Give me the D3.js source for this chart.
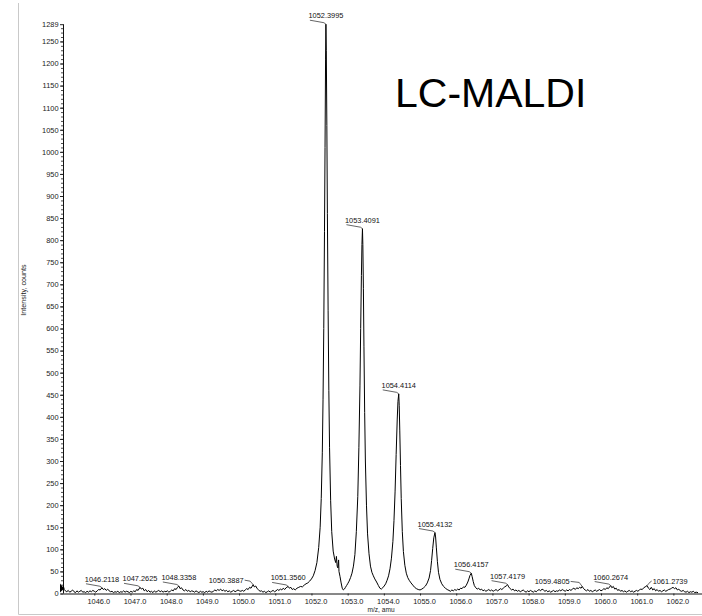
<!DOCTYPE html>
<html>
<head>
<meta charset="utf-8">
<script src="https://cdn.jsdelivr.net/npm/d3@7"></script>
<style>
  body { margin: 0; background: #fff; }
  svg { display: block; }
  text { font-family: "Liberation Sans", Arial, sans-serif; }
</style>
</head>
<body>
<svg id="chart" width="702" height="616"></svg>
<script>
// ---- Spectrum: [m/z, intensity (counts)] ----
const spectrumLow = [
  [1045.14,18],[1045.17,9],[1045.20,6],[1045.24,4],[1045.28,7],[1045.32,3],[1045.36,5],[1045.40,8],
  [1045.44,4],[1045.48,2],[1045.52,6],[1045.56,3],[1045.60,5],[1045.64,7],[1045.68,3],[1045.72,4],
  [1045.76,2],[1045.80,5],[1045.84,3],[1045.88,6],[1045.92,4],[1045.96,7],[1046.00,5],[1046.04,3],
  [1046.08,6],[1046.12,9],[1046.16,8],[1046.2118,13],[1046.25,9],[1046.29,11],[1046.33,7],[1046.37,10],
  [1046.41,6],[1046.45,4],[1046.49,5],[1046.53,2],[1046.57,4],[1046.61,3],[1046.65,5],[1046.69,2],
  [1046.73,4],[1046.77,3],[1046.81,6],[1046.85,3],[1046.89,5],[1046.93,4],[1046.97,2],[1047.01,5],
  [1047.05,3],[1047.09,6],[1047.13,4],[1047.17,9],[1047.21,7],[1047.2625,14],[1047.30,10],[1047.34,12],
  [1047.38,6],[1047.42,9],[1047.46,4],[1047.50,7],[1047.54,3],[1047.58,5],[1047.62,2],[1047.66,6],
  [1047.70,3],[1047.74,5],[1047.78,7],[1047.82,4],[1047.86,6],[1047.90,3],[1047.94,5],[1047.98,4],
  [1048.02,6],[1048.06,3],[1048.10,5],[1048.14,8],[1048.18,6],[1048.22,11],[1048.26,9],[1048.30,14],
  [1048.3358,17],[1048.37,11],[1048.41,13],[1048.45,8],[1048.49,6],[1048.53,9],[1048.57,5],[1048.61,7],
  [1048.65,4],[1048.69,6],[1048.73,5],[1048.77,3],[1048.81,6],[1048.85,4],[1048.89,2],[1048.93,5],
  [1048.97,3],[1049.01,4],[1049.05,2],[1049.09,5],[1049.13,3],[1049.17,6],[1049.21,4],[1049.25,3],
  [1049.29,5],[1049.33,8],[1049.37,6],[1049.41,9],[1049.45,7],[1049.49,10],[1049.53,6],[1049.57,8],
  [1049.61,5],[1049.65,7],[1049.69,4],[1049.73,6],[1049.77,3],[1049.81,5],[1049.85,7],[1049.89,4],
  [1049.93,6],[1049.97,8],[1050.01,6],[1050.05,5],[1050.09,7],[1050.13,5],[1050.17,8],[1050.21,11],
  [1050.25,9],[1050.29,14],[1050.33,12],[1050.3887,20],[1050.42,15],[1050.46,17],[1050.50,11],[1050.54,8],
  [1050.58,5],[1050.62,6],[1050.66,3],[1050.70,5],[1050.74,2],[1050.78,4],[1050.82,6],[1050.86,3],
  [1050.90,5],[1050.94,7],[1050.98,4],[1051.02,6],[1051.06,9],[1051.10,7],[1051.14,10],[1051.18,8],
  [1051.22,12],[1051.26,9],[1051.30,13],[1051.3560,16],[1051.39,12],[1051.43,14],[1051.47,9],[1051.51,11],
  [1051.55,8]
];

const spectrumCluster = [
  [1051.60,12],[1051.65,14],[1051.70,16],[1051.75,15],[1051.80,19],[1051.85,22],[1051.90,24],[1051.95,28],
  [1052.00,33],[1052.05,40],[1052.10,52],[1052.15,70],[1052.20,104],[1052.24,150],[1052.27,215],[1052.30,320],
  [1052.32,440],[1052.34,600],[1052.36,820],[1052.375,1010],[1052.39,1210],[1052.3995,1289],[1052.41,1230],
  [1052.425,1060],[1052.44,860],[1052.46,640],[1052.48,460],[1052.50,330],[1052.53,210],[1052.56,140],
  [1052.60,96],[1052.64,78],[1052.67,70],[1052.69,84],[1052.71,62],[1052.73,58],[1052.75,76],[1052.76,50],
  [1052.79,38],[1052.82,24],[1052.85,12],[1052.88,8],[1052.91,10],[1052.94,14],[1052.97,18],[1053.00,22],
  [1053.04,28],[1053.08,36],[1053.12,46],[1053.16,62],[1053.20,88],[1053.24,140],[1053.28,220],[1053.31,330],
  [1053.34,470],[1053.36,600],[1053.38,720],[1053.395,790],[1053.4091,826],[1053.42,790],[1053.435,690],
  [1053.45,560],[1053.47,410],[1053.49,300],[1053.52,200],[1053.55,135],[1053.59,90],[1053.63,62],
  [1053.67,48],[1053.71,40],[1053.75,33],[1053.80,26],[1053.85,18],[1053.89,12],[1053.93,10],[1053.97,13],
  [1054.01,17],[1054.05,22],[1054.09,30],[1054.13,40],[1054.17,56],[1054.21,80],[1054.25,118],[1054.28,165],
  [1054.31,230],[1054.34,315],[1054.37,395],[1054.39,435],[1054.4114,452],[1054.425,425],[1054.44,370],
  [1054.46,290],[1054.48,215],[1054.51,140],[1054.54,95],[1054.58,64],[1054.62,46],[1054.66,36],[1054.70,30],
  [1054.75,24],[1054.80,19],[1054.85,14],[1054.90,11],[1054.95,9],[1055.00,8],[1055.05,10],[1055.10,13],
  [1055.15,17],[1055.20,24],[1055.25,35],[1055.29,52],[1055.32,75],[1055.35,102],[1055.38,126],
  [1055.4132,138],[1055.43,128],[1055.45,105],[1055.48,72],[1055.51,48],[1055.55,32],[1055.60,22],
  [1055.65,16],[1055.70,12],[1055.75,9],[1055.80,7]
];

const spectrumHigh = [
  [1055.84,5],[1055.88,8],[1055.92,6],[1055.96,9],[1056.00,7],[1056.04,10],[1056.08,8],[1056.12,12],
  [1056.16,11],[1056.20,15],[1056.24,14],[1056.28,19],[1056.32,26],[1056.35,33],[1056.38,41],[1056.4157,46],
  [1056.44,38],[1056.47,27],[1056.50,18],[1056.54,13],[1056.58,10],[1056.62,12],[1056.66,8],[1056.70,10],
  [1056.74,6],[1056.78,8],[1056.82,5],[1056.86,7],[1056.90,9],[1056.94,6],[1056.98,8],[1057.02,5],
  [1057.06,7],[1057.10,9],[1057.14,6],[1057.18,8],[1057.22,11],[1057.26,9],[1057.30,12],[1057.34,15],
  [1057.38,17],[1057.4179,20],[1057.45,15],[1057.49,11],[1057.53,8],[1057.57,10],[1057.61,6],[1057.65,8],
  [1057.69,5],[1057.73,7],[1057.77,4],[1057.81,6],[1057.85,8],[1057.89,5],[1057.93,3],[1057.97,6],
  [1058.01,4],[1058.05,7],[1058.09,5],[1058.13,3],[1058.17,6],[1058.21,4],[1058.25,7],[1058.29,9],
  [1058.33,6],[1058.37,10],[1058.41,8],[1058.45,5],[1058.49,7],[1058.53,4],[1058.57,6],[1058.61,3],
  [1058.65,5],[1058.69,7],[1058.73,4],[1058.77,6],[1058.81,5],[1058.85,8],[1058.89,6],[1058.93,9],
  [1058.97,7],[1059.01,5],[1059.05,8],[1059.09,6],[1059.13,9],[1059.17,7],[1059.21,10],[1059.25,12],
  [1059.29,9],[1059.33,13],[1059.37,11],[1059.41,14],[1059.45,12],[1059.4805,16],[1059.52,11],[1059.56,8],
  [1059.60,6],[1059.64,9],[1059.68,5],[1059.72,7],[1059.76,4],[1059.80,6],[1059.84,8],[1059.88,5],
  [1059.92,7],[1059.96,9],[1060.00,6],[1060.04,8],[1060.08,11],[1060.12,9],[1060.16,13],[1060.20,11],
  [1060.2674,18],[1060.30,13],[1060.34,16],[1060.38,10],[1060.42,12],[1060.46,7],[1060.50,9],[1060.54,5],
  [1060.58,7],[1060.62,4],[1060.66,6],[1060.70,3],[1060.74,5],[1060.78,7],[1060.82,4],[1060.86,6],
  [1060.90,3],[1060.94,5],[1060.98,7],[1061.02,5],[1061.06,8],[1061.10,10],[1061.14,9],[1061.18,13],
  [1061.22,15],[1061.2739,18],[1061.31,12],[1061.35,9],[1061.39,14],[1061.43,8],[1061.47,11],[1061.51,6],
  [1061.55,9],[1061.59,5],[1061.63,7],[1061.67,4],[1061.71,6],[1061.75,8],[1061.79,5],[1061.83,7],
  [1061.87,9],[1061.91,10],[1061.95,12],[1061.99,14],[1062.03,11],[1062.07,13],[1062.11,8],[1062.15,10],
  [1062.19,6],[1062.23,5],[1062.27,7],[1062.31,4],[1062.35,3],[1062.39,5],[1062.43,2],[1062.47,4],
  [1062.51,3],[1062.55,5],[1062.59,2],[1062.63,3],[1062.68,2]
];

// Centroid m/z values of the annotated peaks
const labelledPeaks = [
  1046.2118, 1047.2625, 1048.3358, 1050.3887, 1051.3560, 1052.3995, 1053.4091,
  1054.4114, 1055.4132, 1056.4157, 1057.4179, 1059.4805, 1060.2674, 1061.2739
];

const xTickValues = [1046, 1047, 1048, 1049, 1050, 1051, 1052, 1053, 1054,
                     1055, 1056, 1057, 1058, 1059, 1060, 1061, 1062];
const yTickValues = [0, 50, 100, 150, 200, 250, 300, 350, 400, 450, 500, 550, 600,
                     650, 700, 750, 800, 850, 900, 950, 1000, 1050, 1100, 1150,
                     1200, 1250, 1289];

const titleText = "LC-MALDI";
const xAxisTitle = "m/z, amu";
const yAxisTitle = "Intensity, counts";

// ---- Layout ----
const spectrum = spectrumLow.concat(spectrumCluster, spectrumHigh);
const plot = { left: 63, right: 698, top: 24.2, bottom: 593.5 };

const x = d3.scaleLinear().domain([1045.135, 1062.68]).range([plot.left, plot.right]);
const y = d3.scaleLinear().domain([0, 1289]).range([plot.bottom, plot.top]);

const svg = d3.select("#chart");

// Light panel frame (left and bottom edges)
svg.append("path")
  .attr("d", "M18.5,3 V614.5 H702")
  .attr("fill", "none").attr("stroke", "#c9c9c9").attr("stroke-width", 1);

// Y axis with minor ticks every 10 counts
const yMinor = d3.range(0, 1290, 10);
svg.append("g")
  .attr("transform", `translate(${plot.left},0)`)
  .call(d3.axisLeft(y).tickValues(yMinor).tickSize(2).tickFormat(""))
  .call(g => g.select(".domain").remove())
  .call(g => g.selectAll("line").attr("stroke", "#222").attr("stroke-width", 0.8));

const yAxis = svg.append("g")
  .attr("transform", `translate(${plot.left},0)`)
  .call(d3.axisLeft(y).tickValues(yTickValues).tickSize(3).tickPadding(1.5)
        .tickFormat(d3.format("d")));
yAxis.select(".domain").attr("d", `M0.5,${plot.top}V${plot.bottom}`).attr("stroke", "#111");
yAxis.selectAll("line").attr("stroke", "#222");
yAxis.selectAll("text").attr("font-size", 7.4).attr("fill", "#222")
  .attr("font-family", "Liberation Sans, Arial, sans-serif");

// X axis
const xAxis = svg.append("g")
  .attr("transform", `translate(0,${plot.bottom})`)
  .call(d3.axisBottom(x).tickValues(xTickValues).tickSize(2).tickPadding(3)
        .tickFormat(d3.format(".1f")));
xAxis.select(".domain").attr("d", `M${plot.left},0.5H702`).attr("stroke", "#111");
xAxis.selectAll("line").attr("stroke", "#222");
xAxis.selectAll("text").attr("font-size", 7.4).attr("fill", "#222").attr("dx", 4)
  .attr("font-family", "Liberation Sans, Arial, sans-serif");

// Axis titles
svg.append("text")
  .attr("x", 381).attr("y", 612)
  .attr("text-anchor", "middle").attr("font-size", 6.6).attr("fill", "#222")
  .text(xAxisTitle);
svg.append("text")
  .attr("transform", "translate(26,290) rotate(-90)")
  .attr("text-anchor", "middle").attr("font-size", 7.2).attr("fill", "#222")
  .text(yAxisTitle);

// Spectrum trace
const line = d3.line().x(d => x(d[0])).y(d => y(d[1]));
svg.append("path")
  .datum(spectrum)
  .attr("d", line)
  .attr("fill", "none")
  .attr("stroke", "#000")
  .attr("stroke-width", 1)
  .attr("stroke-linejoin", "round");

// Start-of-trace marker
const x0 = x.range()[0], y0 = y(0);
svg.append("path")
  .attr("d", `M${x0 - 3},${y0 - 10} L${x0 + 1},${y0 - 5} L${x0 - 3},${y0 - 1} Z`)
  .attr("fill", "#000");

// Peak annotations: text placement relative to apex (pixels)
const labelPlacement = {
  "1050.3887": { dx: -27, dy: -2, lead: "right" },
  "1059.4805": { dx: -30, dy: -2.5, lead: "right" },
  "1061.2739": { dx: 23, dy: -2, lead: "left" }
};
const fmt = d3.format(".4f");
const apexOf = mz => spectrum.find(p => p[0] === mz);

const ann = svg.append("g").attr("class", "annotations");
labelledPeaks.forEach(mz => {
  const p = apexOf(mz);
  const ax = x(p[0]), ay = y(p[1]);
  const key = fmt(mz);
  const pl = labelPlacement[key] || { dx: 0, dy: -6, lead: "std" };
  const tx = ax + pl.dx, ty = ay + pl.dy;
  const t = ann.append("text")
    .attr("x", tx).attr("y", ty)
    .attr("text-anchor", "middle")
    .attr("font-size", 7.4).attr("fill", "#111")
    .text(key);
  const w = t.node().getComputedTextLength();
  let pts;
  if (pl.lead === "right") {
    pts = [[tx + w / 2 + 1, ty - 2.5], [ax - 3, ty - 1.5], [ax, ay]];
  } else if (pl.lead === "left") {
    pts = [[tx - w / 2 - 1, ty - 2.5], [ax + 3, ty - 1.5], [ax, ay]];
  } else {
    pts = [[ax - 16, ay - 4], [ax - 2, ay - 1.5], [ax, ay]];
  }
  ann.append("path")
    .attr("d", d3.line()(pts))
    .attr("fill", "none").attr("stroke", "#222").attr("stroke-width", 0.7);
});

// Title
svg.append("text")
  .attr("x", 395).attr("y", 107)
  .attr("font-size", 41).attr("fill", "#000")
  .text(titleText);
</script>
</body>
</html>
